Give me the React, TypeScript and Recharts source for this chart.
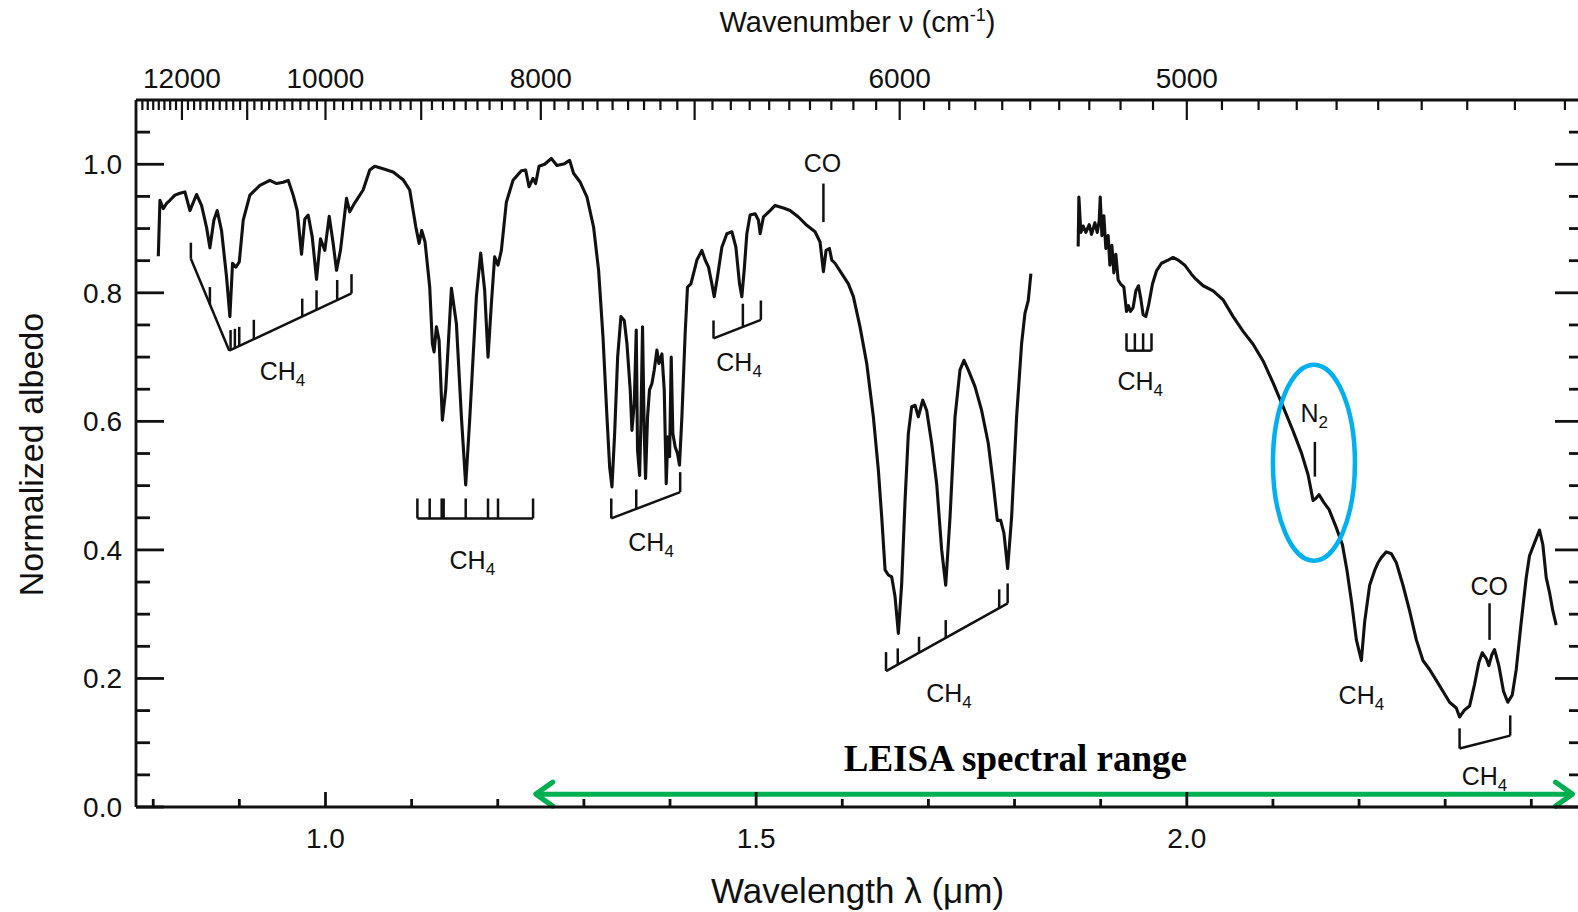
import React from "react";
import { LineChart, Line, XAxis, YAxis, ReferenceLine, ReferenceDot, Label } from "recharts";

// spectrum, short-wavelength part (µm, normalized albedo)
const lambdaShort = [
  0.8059, 0.8078, 0.8117, 0.8155, 0.8194, 0.8252, 0.831, 0.8368, 0.8426, 0.8503, 0.8561, 0.8619, 0.8658,
  0.8704, 0.8743, 0.8793, 0.8851, 0.889, 0.8921, 0.896, 0.8999, 0.9045, 0.9122, 0.9238, 0.9354, 0.9432,
  0.951, 0.9567, 0.9625, 0.9672, 0.9722, 0.976, 0.9799, 0.9846, 0.9896, 0.9942, 0.9992, 1.0043, 1.0089,
  1.0128, 1.0174, 1.0244, 1.0282, 1.034, 1.0437, 1.0514, 1.0572, 1.0669, 1.0785, 1.0901, 1.0978, 1.1048,
  1.1087, 1.1117, 1.1156, 1.121, 1.1241, 1.1261, 1.1288, 1.1319, 1.1357, 1.1396, 1.1462, 1.152, 1.1578,
  1.1628, 1.1674, 1.1752, 1.1802, 1.1848, 1.1887, 1.1926, 1.1964, 1.2003, 1.2042, 1.21, 1.2177, 1.2274,
  1.2324, 1.2363, 1.2409, 1.244, 1.2479, 1.2544, 1.2622, 1.2688, 1.2776, 1.2835, 1.288, 1.2958, 1.3036,
  1.3113, 1.3171, 1.3222, 1.3268, 1.3299, 1.3326, 1.3357, 1.3392, 1.343, 1.3469, 1.35, 1.3538, 1.3558,
  1.3585, 1.3608, 1.3623, 1.3647, 1.3662, 1.3681, 1.3701, 1.3716, 1.3739, 1.3762, 1.379, 1.3817, 1.3848,
  1.3871, 1.3906, 1.3933, 1.3956, 1.3975, 1.3995, 1.4014, 1.4033, 1.406, 1.4087, 1.411, 1.4138, 1.4176,
  1.4203, 1.4242, 1.4273, 1.4312, 1.437, 1.4408, 1.4447, 1.4486, 1.4513, 1.4551, 1.4602, 1.466, 1.4718,
  1.4765, 1.4807, 1.4834, 1.4861, 1.4892, 1.493, 1.4988, 1.5027, 1.5046, 1.5085, 1.5162, 1.522, 1.5317,
  1.5394, 1.5491, 1.5588, 1.5684, 1.5742, 1.5781, 1.5812, 1.5851, 1.5878, 1.5916, 1.5994, 1.6071, 1.6129,
  1.6206, 1.6284, 1.6361, 1.6419, 1.6458, 1.6497, 1.6535, 1.6574, 1.6613, 1.6651, 1.669, 1.6729, 1.6767,
  1.6806, 1.6845, 1.6883, 1.6934, 1.698, 1.7038, 1.7096, 1.7154, 1.7201, 1.7251, 1.7309, 1.7367, 1.7413,
  1.7463, 1.7541, 1.7618, 1.7695, 1.7753, 1.78, 1.7839, 1.7877, 1.792, 1.7966, 1.8024, 1.8082, 1.8121,
  1.8159, 1.819,
];
const albedoShort = [
  0.857, 0.944, 0.931, 0.939, 0.944, 0.952, 0.955, 0.957, 0.928, 0.953, 0.936, 0.902, 0.87,
  0.913, 0.928, 0.897, 0.825, 0.763, 0.846, 0.84, 0.848, 0.913, 0.952, 0.967, 0.975, 0.97,
  0.972, 0.975, 0.952, 0.928, 0.86, 0.915, 0.921, 0.887, 0.821, 0.884, 0.866, 0.919, 0.877,
  0.835, 0.866, 0.947, 0.926, 0.94, 0.96, 0.991, 0.997, 0.993, 0.988, 0.976, 0.96, 0.903,
  0.877, 0.897, 0.879, 0.809, 0.721, 0.708, 0.747, 0.726, 0.602, 0.649, 0.807, 0.752, 0.607,
  0.501, 0.602, 0.794, 0.862, 0.804, 0.7, 0.783, 0.856, 0.843, 0.866, 0.941, 0.975, 0.99,
  0.991, 0.965, 0.978, 0.97, 0.997, 1.0, 1.009, 0.998, 1.001, 1.006, 0.986, 0.972, 0.949,
  0.902, 0.835, 0.731, 0.607, 0.529, 0.498, 0.581, 0.7, 0.763, 0.757, 0.721, 0.649, 0.586,
  0.628, 0.742, 0.555, 0.516, 0.597, 0.747, 0.581, 0.511, 0.607, 0.649, 0.659, 0.68, 0.711,
  0.69, 0.705, 0.649, 0.503, 0.576, 0.545, 0.7, 0.581, 0.56, 0.55, 0.532, 0.607, 0.737,
  0.809, 0.814, 0.83, 0.851, 0.866, 0.851, 0.84, 0.814, 0.794, 0.825, 0.871, 0.892, 0.895,
  0.871, 0.814, 0.794, 0.835, 0.892, 0.921, 0.923, 0.913, 0.892, 0.918, 0.928, 0.936, 0.932,
  0.928, 0.918, 0.905, 0.895, 0.879, 0.833, 0.866, 0.869, 0.851, 0.846, 0.83, 0.814, 0.794,
  0.747, 0.69, 0.607, 0.524, 0.451, 0.369, 0.361, 0.358, 0.327, 0.27, 0.348, 0.477, 0.581,
  0.623, 0.625, 0.607, 0.633, 0.617, 0.566, 0.503, 0.4, 0.345, 0.451, 0.607, 0.68, 0.695,
  0.68, 0.654, 0.617, 0.566, 0.503, 0.446, 0.446, 0.426, 0.371, 0.451, 0.607, 0.721, 0.768,
  0.788, 0.83,
];

// spectrum, long-wavelength part
const lambdaLong = [
  1.8739, 1.8747, 1.877, 1.8797, 1.8828, 1.8867, 1.8894, 1.8933, 1.896, 1.8983, 1.8995, 1.9014, 1.9037,
  1.906, 1.9087, 1.9107, 1.913, 1.9153, 1.9176, 1.9203, 1.923, 1.9269, 1.93, 1.9323, 1.9346, 1.9377,
  1.9408, 1.9439, 1.9466, 1.9493, 1.9524, 1.9555, 1.9602, 1.9648, 1.9706, 1.9783, 1.9841, 1.9899, 1.9977,
  2.0054, 2.0093, 2.019, 2.0306, 2.0422, 2.0538, 2.0654, 2.077, 2.0886, 2.1002, 2.1118, 2.1234, 2.1331,
  2.1408, 2.1466, 2.1497, 2.1535, 2.159, 2.1651, 2.1729, 2.1807, 2.186, 2.1915, 2.1969, 2.2027, 2.2065,
  2.2123, 2.2181, 2.222, 2.2258, 2.2317, 2.2375, 2.2433, 2.251, 2.2587, 2.2665, 2.2742, 2.2819, 2.2897,
  2.2974, 2.3051, 2.3129, 2.3167, 2.3225, 2.3283, 2.3341, 2.3391, 2.343, 2.3477, 2.3507, 2.3542, 2.3573,
  2.3623, 2.3677, 2.3727, 2.3778, 2.3825, 2.3883, 2.3941, 2.3979, 2.4037, 2.4095, 2.4134, 2.4173, 2.4211,
  2.425, 2.4289,
];
const albedoLong = [
  0.872, 0.949, 0.894, 0.904, 0.894, 0.906, 0.891, 0.909, 0.894, 0.912, 0.949, 0.889, 0.92,
  0.869, 0.889, 0.843, 0.874, 0.831, 0.86, 0.82, 0.814, 0.809, 0.771, 0.78, 0.771, 0.777,
  0.803, 0.811, 0.791, 0.766, 0.763, 0.78, 0.814, 0.834, 0.846, 0.851, 0.855, 0.851, 0.843,
  0.829, 0.823, 0.811, 0.803, 0.789, 0.763, 0.74, 0.72, 0.694, 0.66, 0.623, 0.585, 0.551,
  0.517, 0.477, 0.48, 0.486, 0.474, 0.463, 0.437, 0.408, 0.368, 0.317, 0.26, 0.228, 0.288,
  0.345, 0.368, 0.38, 0.388, 0.397, 0.394, 0.38, 0.345, 0.305, 0.26, 0.228, 0.214, 0.197,
  0.18, 0.163, 0.154, 0.14, 0.151, 0.157, 0.191, 0.225, 0.24, 0.231, 0.22, 0.237, 0.245,
  0.22, 0.18, 0.163, 0.174, 0.214, 0.288, 0.357, 0.391, 0.411, 0.431, 0.408, 0.357, 0.334,
  0.305, 0.283,
];

const wavelengthTicks = [0.8, 0.9, 1.0, 1.1, 1.2, 1.3, 1.4, 1.5, 1.6, 1.7, 1.8, 1.9, 2.0, 2.1, 2.2, 2.3, 2.4];
const wavelengthLabels = [1.0, 1.5, 2.0];
const wavenumberLabels = [12000, 10000, 8000, 6000, 5000];
const albedoTicks = [0, 0.05, 0.1, 0.15, 0.2, 0.25, 0.3, 0.35, 0.4, 0.45, 0.5, 0.55, 0.6, 0.65, 0.7, 0.75, 0.8, 0.85, 0.9, 0.95, 1.0, 1.05];

// band markers drawn under the spectrum: [λ1, a1, λ2, a2]
const bandMarks = [
  [0.8437, 0.878, 0.8437, 0.853], [0.8437, 0.853, 0.8883, 0.71], [0.8883, 0.71, 1.0302, 0.799],
  [1.0302, 0.799, 1.0302, 0.829], [0.8658, 0.782, 0.8658, 0.809], [0.8898, 0.711, 0.8898, 0.742],
  [0.8948, 0.714, 0.8948, 0.744], [0.8999, 0.717, 0.8999, 0.747], [0.9168, 0.728, 0.9168, 0.758],
  [0.973, 0.763, 0.973, 0.791], [0.9896, 0.773, 0.9896, 0.804], [1.0136, 0.788, 1.0136, 0.82],
  [1.1067, 0.449, 1.241, 0.449], [1.1067, 0.449, 1.1067, 0.48], [1.121, 0.449, 1.121, 0.48],
  [1.1349, 0.449, 1.1349, 0.48], [1.1372, 0.449, 1.1372, 0.48], [1.1628, 0.449, 1.1628, 0.48],
  [1.1887, 0.449, 1.1887, 0.48], [1.2003, 0.449, 1.2003, 0.48], [1.241, 0.449, 1.241, 0.48],
  [1.3318, 0.48, 1.3318, 0.449], [1.3318, 0.449, 1.4118, 0.49], [1.4118, 0.49, 1.4118, 0.521],
  [1.3608, 0.464, 1.3608, 0.494],
  [1.4505, 0.757, 1.4505, 0.729], [1.4505, 0.729, 1.5055, 0.758], [1.5055, 0.758, 1.5055, 0.788],
  [1.4846, 0.747, 1.4846, 0.783],
  [1.5781, 0.91, 1.5781, 0.97],
  [1.6508, 0.241, 1.6508, 0.2115], [1.6508, 0.2115, 1.792, 0.3168], [1.792, 0.3168, 1.792, 0.3479],
  [1.6644, 0.2216, 1.6644, 0.2468], [1.6891, 0.2401, 1.6891, 0.2649], [1.7201, 0.263, 1.7201, 0.2908],
  [1.7822, 0.309, 1.7822, 0.3386],
  [1.93, 0.71, 1.959, 0.71], [1.93, 0.71, 1.93, 0.737], [1.9397, 0.71, 1.9397, 0.737],
  [1.9493, 0.71, 1.9493, 0.737], [1.959, 0.71, 1.959, 0.737],
  [2.1487, 0.514, 2.1487, 0.568],
  [2.3515, 0.26, 2.3515, 0.317],
  [2.3167, 0.1224, 2.3167, 0.091], [2.3167, 0.091, 2.3755, 0.111], [2.3755, 0.111, 2.3755, 0.1425],
];

const bandNames = [
  { lambda: 0.95, albedo: 0.664, name: "CH", sub: "4" },
  { lambda: 1.1705, albedo: 0.371, name: "CH", sub: "4" },
  { lambda: 1.378, albedo: 0.398, name: "CH", sub: "4" },
  { lambda: 1.4802, albedo: 0.678, name: "CH", sub: "4" },
  { lambda: 1.577, albedo: 0.988, name: "CO", sub: "" },
  { lambda: 1.7239, albedo: 0.164, name: "CH", sub: "4" },
  { lambda: 1.946, albedo: 0.649, name: "CH", sub: "4" },
  { lambda: 2.148, albedo: 0.599, name: "N", sub: "2" },
  { lambda: 2.2027, albedo: 0.161, name: "CH", sub: "4" },
  { lambda: 2.3512, albedo: 0.33, name: "CO", sub: "" },
  { lambda: 2.3456, albedo: 0.035, name: "CH", sub: "4" },
];

const leisaRange = [1.2418, 2.4501];

const data = [
  ...lambdaShort.map((l, i) => ({ lambda: l, albedo: albedoShort[i] })),
  { lambda: 1.85, albedo: null },
  ...lambdaLong.map((l, i) => ({ lambda: l, albedo: albedoLong[i] })),
];

const wavenumberTicks = Array.from({ length: 87 }, (_, i) => 12700 - i * 100);

const sans = "'Liberation Sans', Arial, Helvetica, sans-serif";
const ink = "#111";

const near = (a: number, b: number) => Math.abs(a - b) < 1e-6;

const BottomTick = (props: any) => {
  const { x, y, payload } = props;
  const v = payload.value as number;
  const major = wavelengthLabels.some((m) => near(m, v));
  return (
    <g>
      <line x1={x} x2={x} y1={y} y2={y - (major ? 15 : 8)} stroke={ink} strokeWidth={2.8} />
      {major && (
        <text x={x} y={y + 41} textAnchor="middle" fontFamily={sans} fontSize={28} fill={ink}>
          {v.toFixed(1)}
        </text>
      )}
    </g>
  );
};

const TopTick = (props: any) => {
  const { x, y, payload } = props;
  const n = Math.round(10000 / payload.value);
  const major = n % 1000 === 0;
  const labelled = wavenumberLabels.includes(n);
  return (
    <g>
      <line x1={x} x2={x} y1={y} y2={y + (major ? 20 : 10)} stroke={ink} strokeWidth={2.2} />
      {labelled && (
        <text x={x} y={y - 12} textAnchor="middle" fontFamily={sans} fontSize={28} fill={ink}>
          {n}
        </text>
      )}
    </g>
  );
};

const LeftTick = (props: any) => {
  const { x, y, payload } = props;
  const v = payload.value as number;
  const major = near(v * 5, Math.round(v * 5));
  return (
    <g>
      <line x1={x} x2={x + (major ? 28 : 14)} y1={y} y2={y} stroke={ink} strokeWidth={2.8} />
      {major && (
        <text x={x - 14} y={y + 10} textAnchor="end" fontFamily={sans} fontSize={28} fill={ink}>
          {v.toFixed(1)}
        </text>
      )}
    </g>
  );
};

const RightTick = (props: any) => {
  const { x, y, payload } = props;
  const v = payload.value as number;
  const major = near(v * 5, Math.round(v * 5));
  return <line x1={x} x2={x - (major ? 28 : 14)} y1={y} y2={y} stroke={ink} strokeWidth={2.8} />;
};

const bandLabel = (name: string, sub: string) => (p: any) => (
  <text x={p.cx} y={p.cy} textAnchor="middle" fontFamily={sans} fontSize={25} fill={ink}>
    {name}
    {sub && (
      <tspan fontSize={17} dy={6}>
        {sub}
      </tspan>
    )}
  </text>
);

const leisaArrow = (p: any) => {
  const { x1, y1, x2, y2 } = p;
  const c = "#00B050";
  return (
    <g>
      <line x1={x1 + 3} y1={y1} x2={x2 - 3} y2={y2} stroke={c} strokeWidth={5} />
      <polyline
        points={`${x1 + 19},${y1 - 12} ${x1 + 2},${y1} ${x1 + 19},${y1 + 12}`}
        fill="none" stroke={c} strokeWidth={5} strokeLinecap="round" strokeLinejoin="round"
      />
      <polyline
        points={`${x2 - 19},${y2 - 12} ${x2 - 2},${y2} ${x2 - 19},${y2 + 12}`}
        fill="none" stroke={c} strokeWidth={5} strokeLinecap="round" strokeLinejoin="round"
      />
    </g>
  );
};

const leisaText = (p: any) => (
  <text x={p.cx} y={p.cy} textAnchor="middle" fontFamily="'Liberation Serif', 'Times New Roman', serif" fontWeight="bold" fontSize={37} fill="#000">
    LEISA spectral range
  </text>
);

const n2Ring = (p: any) => (
  <ellipse cx={p.cx} cy={p.cy} rx={41} ry={98} fill="none" stroke="#00B0F0" strokeWidth={4.5} />
);

const wavelengthTitle = (p: any) => {
  const vb = p.viewBox;
  return (
    <text x={vb.x + vb.width / 2 - 2} y={vb.y + 96} textAnchor="middle" fontFamily={sans} fontSize={35} fill={ink}>
      Wavelength λ (μm)
    </text>
  );
};

const wavenumberTitle = (p: any) => {
  const vb = p.viewBox;
  return (
    <text x={vb.x + vb.width / 2 - 2} y={vb.y + 32} textAnchor="middle" fontFamily={sans} fontSize={29} fill={ink}>
      Wavenumber ν (cm
      <tspan fontSize={18} dy={-11}>-1</tspan>
      <tspan dy={11}>)</tspan>
    </text>
  );
};

const albedoTitle = (p: any) => {
  const vb = p.viewBox;
  const cx = 43;
  const cy = vb.y + vb.height / 2 + 1;
  return (
    <text x={cx} y={cy} transform={`rotate(-90, ${cx}, ${cy})`} textAnchor="middle" fontFamily={sans} fontSize={34} fill={ink}>
      Normalized albedo
    </text>
  );
};

export default function App() {
  const axisLine = { stroke: ink, strokeWidth: 2.8 };
  return (
    <div style={{ position: "absolute", left: 0, top: 0, width: 1578, height: 912, overflow: "hidden", background: "#fff" }}>
      <LineChart width={1600} height={912} data={data} margin={{ top: 0, right: 0, bottom: 0, left: 0 }}>
        <XAxis
          type="number" dataKey="lambda" domain={[0.78, 2.46]} allowDataOverflow
          ticks={wavelengthTicks} interval={0} tickSize={0} tickMargin={0} tickLine={false}
          height={105} axisLine={axisLine} tick={<BottomTick />}
        >
          <Label content={wavelengthTitle} />
        </XAxis>
        <XAxis
          xAxisId="top" orientation="top" type="number" dataKey="lambda" domain={[0.78, 2.46]} allowDataOverflow
          ticks={wavenumberTicks.map((n) => 10000 / n)} interval={0} tickSize={0} tickMargin={0} tickLine={false}
          height={100} axisLine={axisLine} tick={<TopTick />}
        >
          <Label content={wavenumberTitle} />
        </XAxis>
        <YAxis
          type="number" domain={[0, 1.1]} allowDataOverflow ticks={albedoTicks} interval={0}
          tickSize={0} tickMargin={0} tickLine={false} width={136} axisLine={axisLine} tick={<LeftTick />}
        >
          <Label content={albedoTitle} />
        </YAxis>
        <YAxis
          yAxisId="right" orientation="right" type="number" domain={[0, 1.1]} allowDataOverflow
          ticks={albedoTicks} interval={0} tickSize={0} tickMargin={0} tickLine={false}
          width={17} axisLine={axisLine} tick={<RightTick />}
        />
        {bandMarks.map((s, i) => (
          <ReferenceLine
            key={`m${i}`}
            segment={[{ x: s[0], y: s[1] }, { x: s[2], y: s[3] }]}
            stroke={ink} strokeWidth={2.5} ifOverflow="visible"
          />
        ))}
        {bandNames.map((b, i) => (
          <ReferenceDot key={`n${i}`} x={b.lambda} y={b.albedo} r={1} shape={bandLabel(b.name, b.sub)} ifOverflow="visible" />
        ))}
        <ReferenceDot x={2.1476} y={0.5356} r={1} shape={n2Ring} ifOverflow="visible" />
        <ReferenceDot x={1.801} y={0.056} r={1} shape={leisaText} ifOverflow="visible" />
        <ReferenceLine
          segment={[{ x: leisaRange[0], y: 0.02 }, { x: leisaRange[1], y: 0.02 }]}
          ifOverflow="visible" shape={leisaArrow}
        />
        <Line
          type="linear" dataKey="albedo" stroke={ink} strokeWidth={3.1} strokeLinejoin="round"
          dot={false} activeDot={false} connectNulls={false} isAnimationActive={false}
        />
      </LineChart>
    </div>
  );
}
